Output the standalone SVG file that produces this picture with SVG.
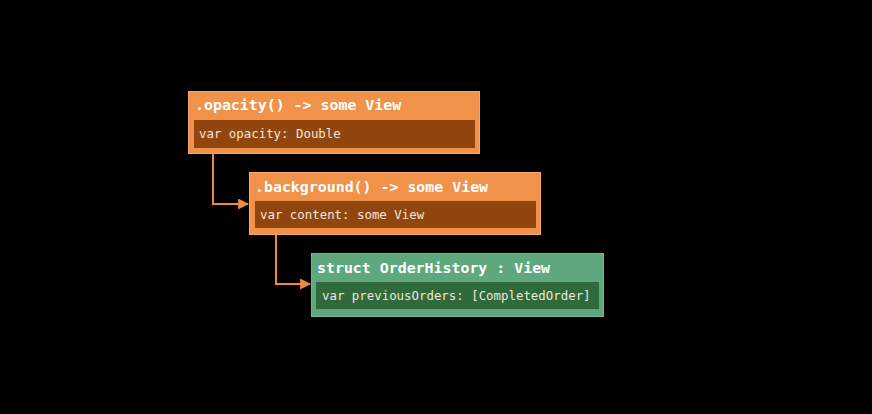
<svg xmlns="http://www.w3.org/2000/svg" width="872" height="414" viewBox="0 0 872 414">
<defs>
<style>
.title{font-family:"DejaVu Sans Mono","Liberation Mono",monospace;font-weight:bold;font-size:14.9px;fill:#ffffff}
.body{font-family:"DejaVu Sans Mono","Liberation Mono",monospace;font-size:12.4px;fill:#f3e6da}
.orange{fill:#f0924a;stroke:#f7a864;stroke-width:1}
.brown{fill:#91460f}
.green{fill:#5fa77c;stroke:#72b98d;stroke-width:1}
.dgreen{fill:#2e6a3c}
.conn{fill:none;stroke:#ec8a42;stroke-width:2}
</style>
<marker id="arr" viewBox="0 0 10 10" refX="9" refY="5" markerWidth="5.5" markerHeight="5.5" orient="auto" markerUnits="strokeWidth">
<path d="M0,0 L10,5 L0,10 z" fill="#ec8a42"/>
</marker>
</defs>
<rect width="872" height="414" fill="#000000"/>
<g id="connectors">
<path class="conn" d="M213,153 V204 H248" marker-end="url(#arr)"/>
<path class="conn" d="M276,234 V284 H310" marker-end="url(#arr)"/>
</g>
<g id="opacity">
<rect class="orange" x="188.5" y="91.5" width="291" height="62"/>
<rect class="brown" x="194" y="120" width="281" height="28"/>
<text class="title" x="195" y="110">.opacity() -&gt; some View</text>
<text class="body" x="199" y="138">var opacity: Double</text>
</g>
<g id="background">
<rect class="orange" x="249.5" y="172.5" width="291" height="62"/>
<rect class="brown" x="255" y="201" width="281" height="27"/>
<text class="title" x="255" y="192">.background() -&gt; some View</text>
<text class="body" x="260" y="219">var content: some View</text>
</g>
<g id="orderhistory">
<rect class="green" x="311.5" y="253.5" width="292" height="63"/>
<rect class="dgreen" x="316" y="282" width="283" height="27"/>
<text class="title" x="317" y="273">struct OrderHistory : View</text>
<text class="body" x="322" y="300">var previousOrders: [CompletedOrder]</text>
</g>
</svg>
